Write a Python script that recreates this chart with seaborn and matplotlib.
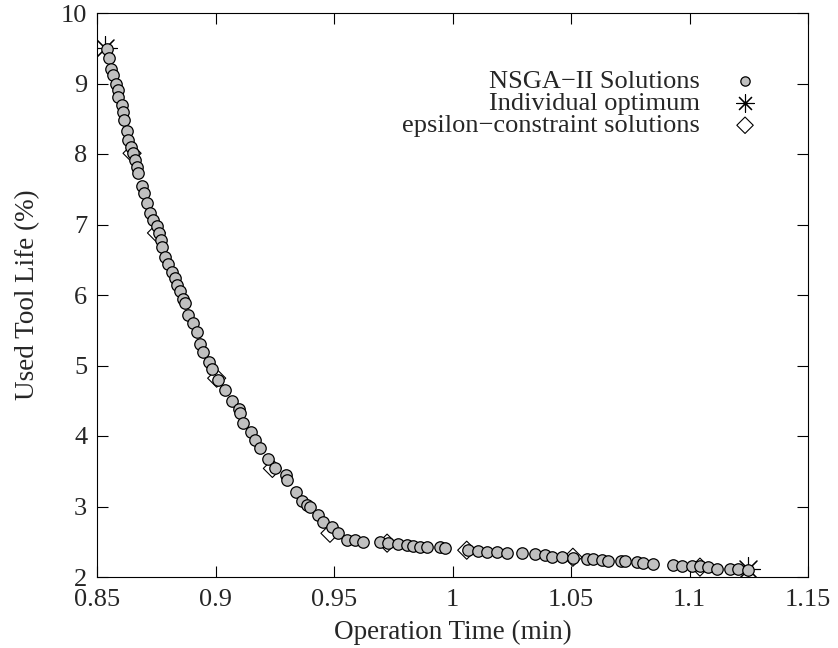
import matplotlib
matplotlib.use("Agg")
import matplotlib.pyplot as plt
import seaborn as sns
import pandas as pd
from matplotlib.ticker import FixedLocator, FuncFormatter

# ---- data ----
nsga_time = [0.8541, 0.8551, 0.8559, 0.8569, 0.8579, 0.8587, 0.8590, 0.8604, 0.8611, 0.8615,
             0.8625, 0.8632, 0.8643, 0.8651, 0.8660, 0.8668, 0.8674, 0.8689, 0.8698, 0.8710,
             0.8724, 0.8738, 0.8752, 0.8763, 0.8769, 0.8773, 0.8787, 0.8801, 0.8815, 0.8829,
             0.8836, 0.8850, 0.8864, 0.8870, 0.8885, 0.8906, 0.8921, 0.8935, 0.8949, 0.8974,
             0.8984, 0.9012, 0.9040, 0.9068, 0.9100, 0.9105, 0.9117, 0.9149, 0.9167, 0.9188,
             0.9223, 0.9251, 0.9297, 0.9300, 0.9340, 0.9365, 0.9385, 0.9399, 0.9434, 0.9455,
             0.9490, 0.9518, 0.9553, 0.9589, 0.9624, 0.9694, 0.9729, 0.9771, 0.9806, 0.9834,
             0.9863, 0.9891, 0.9947, 0.9968, 1.0067, 1.0109, 1.0144, 1.0187, 1.0229, 1.0292,
             1.0348, 1.0390, 1.0418, 1.0460, 1.0510, 1.0566, 1.0594, 1.0629, 1.0657, 1.0713,
             1.0728, 1.0777, 1.0805, 1.0847, 1.0931, 1.0967, 1.1009, 1.1044, 1.1079, 1.1114,
             1.1171, 1.1206, 1.1248]
nsga_life = [9.49, 9.36, 9.20, 9.12, 9.00, 8.91, 8.81, 8.69, 8.60, 8.48,
             8.32, 8.20, 8.10, 8.01, 7.92, 7.82, 7.73, 7.55, 7.44, 7.31,
             7.17, 7.06, 6.98, 6.88, 6.78, 6.68, 6.54, 6.44, 6.33, 6.24,
             6.14, 6.05, 5.95, 5.88, 5.72, 5.60, 5.48, 5.31, 5.19, 5.05,
             4.95, 4.79, 4.65, 4.49, 4.39, 4.33, 4.19, 4.05, 3.94, 3.83,
             3.68, 3.54, 3.45, 3.37, 3.21, 3.08, 3.02, 3.00, 2.88, 2.78,
             2.71, 2.62, 2.52, 2.52, 2.50, 2.49, 2.48, 2.47, 2.45, 2.44,
             2.43, 2.42, 2.42, 2.41, 2.39, 2.37, 2.36, 2.35, 2.34, 2.34,
             2.32, 2.31, 2.29, 2.28, 2.27, 2.26, 2.25, 2.24, 2.23, 2.22,
             2.22, 2.21, 2.20, 2.19, 2.17, 2.16, 2.16, 2.15, 2.14, 2.12,
             2.11, 2.11, 2.10]

opt_time = [0.8535, 1.1247]
opt_life = [9.50, 2.11]

eps_time = [0.8648, 0.8751, 0.9005, 0.9240, 0.9483, 0.9724, 1.0060, 1.0508, 1.1044]
eps_life = [8.01, 6.88, 4.82, 3.54, 2.62, 2.48, 2.38, 2.28, 2.14]

x_ticks = [0.85, 0.9, 0.95, 1.0, 1.05, 1.1, 1.15]
y_ticks = [2, 3, 4, 5, 6, 7, 8, 9, 10]

labels = ["NSGA\u2212II Solutions", "Individual optimum", "epsilon\u2212constraint solutions"]
x_label = "Operation Time (min)"
y_label = "Used Tool Life (%)"

# ---- style ----
sns.set_theme(style="ticks")
plt.rcParams["font.family"] = ["Liberation Serif", "DejaVu Serif"]
plt.rcParams["font.size"] = 19
plt.rcParams["axes.linewidth"] = 0.8
plt.rcParams["axes.edgecolor"] = "black"

FS = 19

fig = plt.figure(figsize=(8.38, 6.48), dpi=100)
ax = fig.add_axes([97 / 838, 1 - 577 / 648, (808 - 97) / 838, (577 - 13) / 648])

df_n = pd.DataFrame({"t": nsga_time, "u": nsga_life})
df_o = pd.DataFrame({"t": opt_time, "u": opt_life})
df_e = pd.DataFrame({"t": eps_time, "u": eps_life})

sns.scatterplot(data=df_o, x="t", y="u", ax=ax, marker=(8, 2, 0), s=300,
                color="black", linewidth=0.8, zorder=2, label=labels[1])
sns.scatterplot(data=df_e, x="t", y="u", ax=ax, marker="D", s=85,
                facecolor="none", edgecolor="black", linewidth=0.8, zorder=2, label=labels[2])
sns.scatterplot(data=df_n, x="t", y="u", ax=ax, marker="o", s=68,
                color="#c0c0c0", edgecolor="black", linewidth=0.9, zorder=3, label=labels[0])

ax.set_xlim(0.85, 1.15)
ax.set_ylim(2, 10)
ax.xaxis.set_major_locator(FixedLocator(x_ticks))
ax.yaxis.set_major_locator(FixedLocator(y_ticks))
ax.xaxis.set_major_formatter(FuncFormatter(lambda v, p: f"{v:g}"))
ax.yaxis.set_major_formatter(FuncFormatter(lambda v, p: f"{v:g}"))
ax.tick_params(which="major", direction="in", length=8, width=0.8, color="black",
               top=True, right=True, labelsize=FS)
ax.tick_params(axis="x", pad=9)
ax.tick_params(axis="y", pad=7)
for s in ax.spines.values():
    s.set_visible(True)
    s.set_color("black")
    s.set_linewidth(0.8)
ax.set_xlabel(x_label, fontsize=FS + 0.5, labelpad=6)
ax.set_ylabel(y_label, fontsize=FS + 0.5, labelpad=15)
ax.grid(False)

handles, labs = ax.get_legend_handles_labels()
order = [labs.index(l) for l in labels]
leg = ax.legend([handles[i] for i in order], [labs[i] for i in order],
                loc="upper right", bbox_to_anchor=(0.93, 0.9), frameon=False,
                markerfirst=False, fontsize=FS, handlelength=1.0, handletextpad=1.2,
                labelspacing=-0.05, borderpad=0, borderaxespad=0)
for h, sz in zip(leg.legend_handles, [45, 160, 70]):
    h.set_sizes([sz])

fig.savefig("out.png", dpi=100)
